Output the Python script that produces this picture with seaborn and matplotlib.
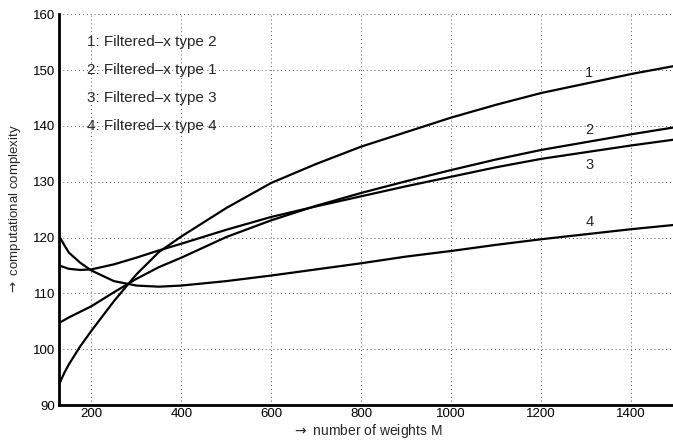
import numpy as np
import pandas as pd
import matplotlib
matplotlib.use("Agg")
import matplotlib.pyplot as plt
import seaborn as sns

# Data
M1 = [128, 140, 150, 175, 200, 250, 300, 350, 400, 500, 600, 700, 800, 900, 1000, 1100, 1200, 1300, 1400, 1500]
c1 = [93.7, 95.8, 97.3, 100.5, 103.3, 108.6, 113.4, 117.4, 120.2, 125.3, 129.8, 133.2, 136.3, 138.9, 141.5, 143.8, 145.9, 147.6, 149.3, 150.8]

M2 = [128, 150, 175, 200, 250, 300, 350, 400, 500, 600, 700, 800, 900, 1000, 1100, 1200, 1300, 1400, 1500]
c2 = [104.7, 105.7, 106.7, 107.7, 110.2, 112.6, 114.7, 116.4, 120.1, 123.1, 125.7, 128.0, 130.1, 132.1, 134.0, 135.7, 137.1, 138.5, 139.8]

M3 = [128, 150, 175, 200, 250, 300, 350, 400, 500, 600, 700, 800, 900, 1000, 1100, 1200, 1300, 1400, 1500]
c3 = [115.0, 114.4, 114.2, 114.3, 115.2, 116.4, 117.7, 118.9, 121.4, 123.7, 125.6, 127.4, 129.2, 130.9, 132.6, 134.1, 135.3, 136.5, 137.6]

M4 = [128, 140, 150, 175, 200, 250, 300, 350, 400, 500, 600, 700, 800, 900, 1000, 1100, 1200, 1300, 1400, 1500]
c4 = [120.3, 118.6, 117.3, 115.5, 114.1, 112.2, 111.4, 111.2, 111.4, 112.2, 113.2, 114.3, 115.4, 116.6, 117.6, 118.7, 119.7, 120.6, 121.5, 122.3]

curve_ids = ["1", "2", "3", "4"]
legend_lines = ["1: Filtered\u2013x type 2", "2: Filtered\u2013x type 1",
                "3: Filtered\u2013x type 3", "4: Filtered\u2013x type 4"]
label_x = [1307, 1307, 1307, 1307]
label_y = [149.4, 139.2, 133.0, 122.7]
legend_x = 190
legend_y = [155, 150, 145, 140]
xticks = [200, 400, 600, 800, 1000, 1200, 1400]
yticks = [90, 100, 110, 120, 130, 140, 150, 160]

df = pd.concat([
    pd.DataFrame({"M": m, "C": c, "curve": k})
    for m, c, k in zip([M1, M2, M3, M4], [c1, c2, c3, c4], curve_ids)
])

sns.set_style("white")
plt.rcParams['font.family'] = ['Liberation Sans', 'DejaVu Sans']

fig = plt.figure(figsize=(6.73, 4.40), dpi=100)
ax = fig.add_axes([0.0877, 0.0795, 0.917, 0.888])

sns.lineplot(data=df, x="M", y="C", hue="curve", units="curve", estimator=None,
             palette=["black"] * 4, linewidth=1.6, legend=False, ax=ax, sort=False)

ax.set_xlim(128, 1500)
ax.set_ylim(90, 160)
ax.set_xticks(xticks)
ax.set_yticks(yticks)
ax.grid(True, linestyle=(0, (1, 3)), color="#555555", linewidth=0.7)
ax.set_axisbelow(True)

for s in ["top", "right"]:
    ax.spines[s].set_visible(False)
for s in ["left", "bottom"]:
    ax.spines[s].set_linewidth(2.0)
    ax.spines[s].set_color("black")

ax.tick_params(direction="in", length=4, width=1.8, labelsize=9.5, colors="black")
ax.tick_params(axis="x", pad=2)
ax.tick_params(axis="y", pad=3)

ax.set_xlabel(r"$\rightarrow$ number of weights M", fontsize=10, va="center")
ax.set_ylabel(r"$\rightarrow$ computational complexity", fontsize=9.5, va="center")
ax.xaxis.set_label_coords(0.5, -0.066)
ax.yaxis.set_label_coords(-0.0713, 0.5)

for t, x, y in zip(curve_ids, label_x, label_y):
    ax.text(x, y, t, fontsize=10.5, ha="center", va="center")

for t, y in zip(legend_lines, legend_y):
    ax.text(legend_x, y, t, fontsize=11, ha="left", va="center")

fig.savefig("out.png", dpi=100)
